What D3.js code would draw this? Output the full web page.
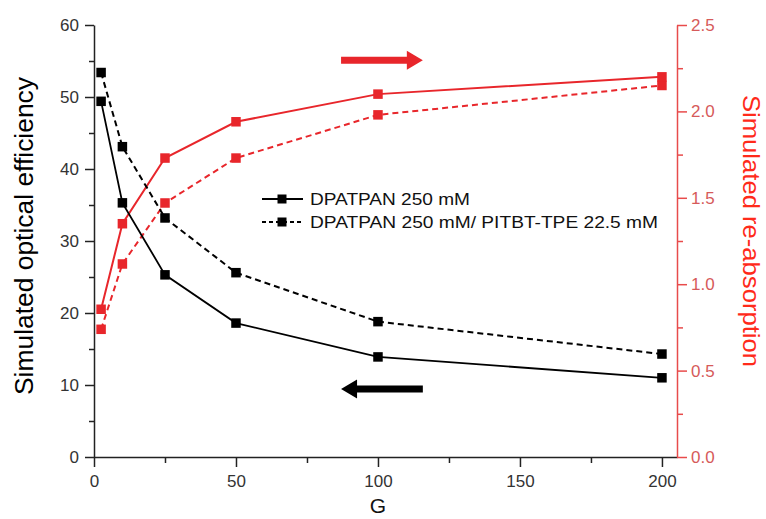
<!DOCTYPE html>
<html><head><meta charset="utf-8">
<script src="https://cdn.jsdelivr.net/npm/d3@7"></script>
<style>
html,body{margin:0;padding:0;background:#fff;}
svg{display:block;font-family:"Liberation Sans",Arial,sans-serif;}
</style></head>
<body><svg id="chart" width="766" height="519"></svg>
<script>
const G = [2.5, 10, 25, 50, 100, 200];
const effSolid = [49.4, 35.3, 25.3, 18.6, 13.9, 11.0];
const effDashed = [53.4, 43.1, 33.2, 25.6, 18.8, 14.3];
const reabsSolid = [0.855, 1.35, 1.73, 1.94, 2.10, 2.20];
const reabsDashed = [0.739, 1.117, 1.47, 1.73, 1.98, 2.15];
const xTicks = [0, 50, 100, 150, 200];
const xMinor = [25, 75, 125, 175];
const yLeftTicks = [0, 10, 20, 30, 40, 50, 60];
const yLeftMinor = [5, 15, 25, 35, 45, 55];
const yRightTicks = [0, 0.5, 1.0, 1.5, 2.0, 2.5];
const yRightMinor = [0.25, 0.75, 1.25, 1.75, 2.25];
const legendLabels = ["DPATPAN 250 mM", "DPATPAN 250 mM/ PITBT-TPE 22.5 mM"];
// arrow annotations: [G start, G end, value on left scale]
const redArrow = [87, 115.8, 55.1];
const blackArrow = [87, 115.8, 9.44];

const RED = "#e8262b", AXRED = "#e84b4b", TXTRED = "#d65a5a";
const svg = d3.select("#chart");
const x = d3.scaleLinear().domain([0, 205.3]).range([94, 677]);
const yL = d3.scaleLinear().domain([0, 60]).range([457, 25]);
const yR = d3.scaleLinear().domain([0, 2.5]).range([457, 25]);

function styleAxis(g, col, txtCol) {
  g.selectAll("path,line").attr("stroke", col).attr("stroke-width", 1.5);
  g.selectAll("text").attr("fill", txtCol).style("font-size", "17px")
    .style("font-family", '"Liberation Sans",Arial,sans-serif');
}

// minor ticks
svg.append("g").attr("transform", "translate(0,457)")
  .call(d3.axisBottom(x).tickValues(xMinor).tickSize(6).tickFormat("").tickSizeOuter(0))
  .call(g => { g.select(".domain").remove(); styleAxis(g, "#222", "#333"); });
svg.append("g").attr("transform", "translate(94,0)")
  .call(d3.axisLeft(yL).tickValues(yLeftMinor).tickSize(5).tickFormat("").tickSizeOuter(0))
  .call(g => { g.select(".domain").remove(); styleAxis(g, "#222", "#333"); });
svg.append("g").attr("transform", "translate(677,0)")
  .call(d3.axisRight(yR).tickValues(yRightMinor).tickSize(6).tickFormat("").tickSizeOuter(0))
  .call(g => { g.select(".domain").remove(); styleAxis(g, AXRED, TXTRED); });

// main axes
svg.append("g").attr("transform", "translate(0,457)")
  .call(d3.axisBottom(x).tickValues(xTicks).tickSize(10).tickPadding(8).tickSizeOuter(0))
  .call(g => styleAxis(g, "#222", "#333"));
svg.append("g").attr("transform", "translate(94,0)")
  .call(d3.axisLeft(yL).tickValues(yLeftTicks).tickSize(9).tickPadding(6).tickSizeOuter(0))
  .call(g => styleAxis(g, "#222", "#333"));
svg.append("g").attr("transform", "translate(677,0)")
  .call(d3.axisRight(yR).tickValues(yRightTicks).tickSize(10).tickPadding(4).tickSizeOuter(0)
    .tickFormat(d3.format(".1f")))
  .call(g => styleAxis(g, AXRED, TXTRED));

// axis titles
svg.append("text").attr("transform", "translate(33,236) rotate(-90)")
  .attr("text-anchor", "middle").attr("fill", "#000").style("font-size", "26px")
  .attr("textLength", 318).attr("lengthAdjust", "spacingAndGlyphs")
  .text("Simulated optical efficiency");
svg.append("text").attr("transform", "translate(743,231) rotate(90)")
  .attr("text-anchor", "middle").attr("fill", "#ff2a1a").style("font-size", "24px")
  .attr("textLength", 272).attr("lengthAdjust", "spacingAndGlyphs")
  .text("Simulated re-absorption");
svg.append("text").attr("x", x(100)).attr("y", 513)
  .attr("text-anchor", "middle").attr("fill", "#111").style("font-size", "21px").text("G");

// series
function drawSeries(vals, yS, col, dashed, width) {
  const data = G.map((g, i) => [g, vals[i]]);
  svg.append("path").datum(data)
    .attr("d", d3.line().x(d => x(d[0])).y(d => yS(d[1])))
    .attr("fill", "none").attr("stroke", col).attr("stroke-width", width)
    .attr("stroke-dasharray", dashed ? "6,4" : null);
  const s = 9.5;
  svg.append("g").selectAll("rect").data(data).join("rect")
    .attr("x", d => x(d[0]) - s / 2).attr("y", d => yS(d[1]) - s / 2)
    .attr("width", s).attr("height", s).attr("fill", col);
}
drawSeries(reabsDashed, yR, RED, true, 2);
drawSeries(reabsSolid, yR, RED, false, 2);
drawSeries(effDashed, yL, "#000", true, 2);
drawSeries(effSolid, yL, "#000", false, 1.8);

// legend
const legY = [199, 222];
legendLabels.forEach((lab, i) => {
  const g = svg.append("g");
  g.append("line").attr("x1", 262).attr("x2", 303).attr("y1", legY[i]).attr("y2", legY[i])
    .attr("stroke", "#000").attr("stroke-width", 2).attr("stroke-dasharray", i ? "4,3" : null);
  g.append("rect").attr("x", 282 - 4.5).attr("y", legY[i] - 4.5).attr("width", 9).attr("height", 9).attr("fill", "#000");
  g.append("text").attr("x", 310).attr("y", legY[i] + 6).attr("fill", "#111")
    .style("font-size", "17px").attr("textLength", i ? 348 : 160).attr("lengthAdjust", "spacingAndGlyphs")
    .text(lab);
});

// arrows
function arrow(a, col, right) {
  const x0 = x(a[0]), x1 = x(a[1]), yy = yL(a[2]);
  const hl = 16, hh = 9.5, sh = 3.5;
  let pts;
  if (right) {
    pts = [[x0, yy - sh], [x1 - hl, yy - sh], [x1 - hl, yy - hh], [x1, yy], [x1 - hl, yy + hh], [x1 - hl, yy + sh], [x0, yy + sh]];
  } else {
    pts = [[x1, yy - sh], [x0 + hl, yy - sh], [x0 + hl, yy - hh], [x0, yy], [x0 + hl, yy + hh], [x0 + hl, yy + sh], [x1, yy + sh]];
  }
  svg.append("polygon").attr("points", pts.map(p => p.join(",")).join(" ")).attr("fill", col);
}
arrow(redArrow, RED, true);
arrow(blackArrow, "#000", false);
</script></body></html>
